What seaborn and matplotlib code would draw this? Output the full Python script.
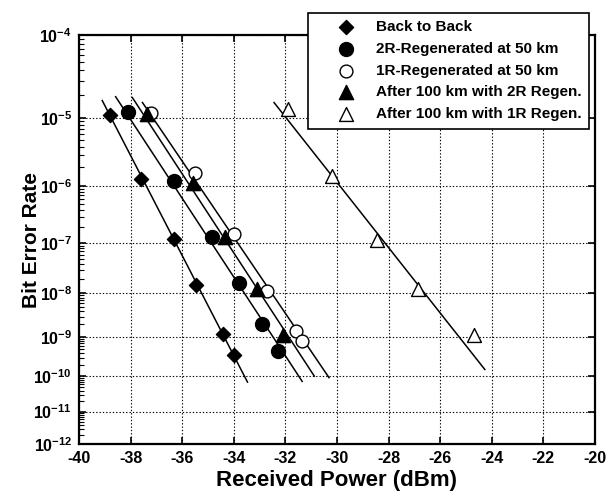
import numpy as np
import pandas as pd
import matplotlib
matplotlib.use("Agg")
import matplotlib.pyplot as plt
import seaborn as sns
from matplotlib.ticker import FixedLocator, FixedFormatter, NullLocator

# ---------------- data ----------------
series_names = ["Back to Back", "2R-Regenerated at 50 km", "1R-Regenerated at 50 km",
                "After 100 km with 2R Regen.", "After 100 km with 1R Regen."]

b2b_x = [-38.8, -37.6, -36.3, -35.45, -34.4, -34.0]
b2b_y = [1.1e-5, 1.3e-6, 1.2e-7, 1.5e-8, 1.2e-9, 3.5e-10]

r2_50_x = [-38.1, -36.3, -34.85, -33.8, -32.9, -32.3]
r2_50_y = [1.2e-5, 1.2e-6, 1.3e-7, 1.6e-8, 2.0e-9, 4.6e-10]

r1_50_x = [-37.2, -35.5, -34.0, -32.7, -31.6, -31.35]
r1_50_y = [1.17e-5, 1.6e-6, 1.5e-7, 1.1e-8, 1.4e-9, 8e-10]

r2_100_x = [-37.35, -35.6, -34.35, -33.1, -32.1]
r2_100_y = [1.15e-5, 1.1e-6, 1.3e-7, 1.2e-8, 1.1e-9]

r1_100_x = [-31.9, -30.2, -28.45, -26.85, -24.7]
r1_100_y = [1.3e-5, 1.45e-6, 1.17e-7, 1.2e-8, 1.1e-9]

# fitted line end points (x in dBm, BER)
fit_b2b_x, fit_b2b_y = [-39.1, -33.47], [1.7e-5, 6.9e-11]
fit_r2_50_x, fit_r2_50_y = [-38.58, -31.35], [1.9e-5, 7.2e-11]
fit_r1_50_x, fit_r1_50_y = [-37.54, -30.31], [1.6e-5, 9.1e-11]
fit_r2_100_x, fit_r2_100_y = [-37.93, -30.88], [1.85e-5, 1.0e-10]
fit_r1_100_x, fit_r1_100_y = [-32.44, -24.27], [1.6e-5, 1.5e-10]

x_ticks = list(range(-40, -19, 2))
y_exponents = list(range(-4, -13, -1))

# ---------------- style ----------------
plt.rcParams["font.family"] = ["Liberation Sans", "DejaVu Sans"]
plt.rcParams["font.weight"] = "bold"
plt.rcParams["mathtext.fontset"] = "custom"
plt.rcParams["mathtext.rm"] = "Liberation Sans:bold"
plt.rcParams["mathtext.bf"] = "Liberation Sans:bold"
plt.rcParams["mathtext.default"] = "rm"

fig = plt.figure(figsize=(6.06, 4.94), dpi=100)
ax = fig.add_axes([79 / 606, 1 - 444 / 494, (595 - 79) / 606, (444 - 35) / 494])


def fwd(y):
    y = np.clip(np.asarray(y, dtype=float), 1e-300, 0.999999)
    return -np.log10(-np.log10(y))


def inv(v):
    v = np.asarray(v, dtype=float)
    return 10.0 ** (-(10.0 ** (-v)))


ax.set_yscale("function", functions=(fwd, inv))
ax.set_xlim(-40, -20)
ax.set_ylim(1e-12, 1e-4)

# fit lines
fits = [(fit_b2b_x, fit_b2b_y), (fit_r2_50_x, fit_r2_50_y), (fit_r1_50_x, fit_r1_50_y),
        (fit_r2_100_x, fit_r2_100_y), (fit_r1_100_x, fit_r1_100_y)]
for fx, fy in fits:
    sns.lineplot(x=fx, y=fy, ax=ax, color="black", linewidth=1.1, legend=False,
                 estimator=None, sort=False, zorder=2)

# markers
series = [(b2b_x, b2b_y), (r2_50_x, r2_50_y), (r1_50_x, r1_50_y),
          (r2_100_x, r2_100_y), (r1_100_x, r1_100_y)]
markers = ["D", "o", "o", "^", "^"]
faces = ["black", "black", "white", "black", "white"]
sizes = [52, 100, 85, 105, 100]
for (sx, sy), name, m, fc, s in zip(series, series_names, markers, faces, sizes):
    sns.scatterplot(x=sx, y=sy, ax=ax, marker=m, s=s, color=fc, edgecolor="black",
                    linewidth=1.0, label=name, zorder=3)

# ticks
ax.xaxis.set_major_locator(FixedLocator(x_ticks))
ax.set_xticklabels([str(t) for t in x_ticks])
major_y = [10.0 ** e for e in y_exponents]
ax.yaxis.set_major_locator(FixedLocator(major_y))
ax.yaxis.set_major_formatter(FixedFormatter([r"$10^{%d}$" % e for e in y_exponents]))
minor_y = [k * 10.0 ** e for e in range(-12, -4) for k in range(2, 10)]
ax.yaxis.set_minor_locator(FixedLocator(minor_y))
ax.xaxis.set_minor_locator(NullLocator())

ax.tick_params(axis="both", which="major", direction="in", length=5, width=1.2,
               labelsize=11.5, top=True, right=True, pad=5)
ax.tick_params(axis="y", which="minor", direction="in", length=3.5, width=0.8,
               left=True, right=False)
for lab in ax.get_xticklabels() + ax.get_yticklabels():
    lab.set_fontweight("bold")

for sp in ax.spines.values():
    sp.set_linewidth(1.6)
    sp.set_color("black")

ax.grid(True, which="major", color="black", linestyle=(0, (1.2, 1.8)), linewidth=0.8)
ax.set_axisbelow(True)

ax.set_xlabel("Received Power (dBm)", fontsize=16, fontweight="bold", labelpad=3)
ax.set_ylabel("Bit Error Rate", fontsize=15, fontweight="bold")
ax.yaxis.set_label_coords(-0.074, 0.5)

leg = ax.legend(loc="upper right", bbox_to_anchor=(0.988, 1.0545), borderaxespad=0,
                frameon=True, fancybox=False, framealpha=1, edgecolor="black",
                prop={"weight": "bold", "size": 11}, handlelength=3.9,
                handletextpad=0.0, borderpad=0.5, labelspacing=0.5, markerscale=1.0)
leg.get_frame().set_linewidth(1.2)
leg.set_zorder(10)

fig.savefig("out.png", dpi=100)
